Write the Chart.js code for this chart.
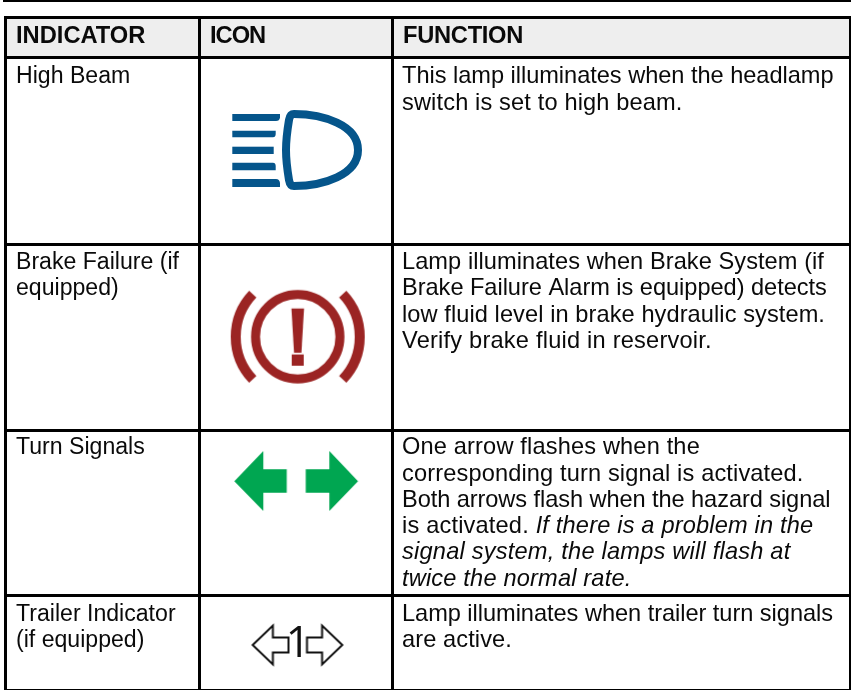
<!DOCTYPE html>
<html><head><meta charset="utf-8">
<style>html,body{margin:0;padding:0;background:#fff;overflow:hidden}canvas{display:block}</style>
<script src="https://cdn.jsdelivr.net/npm/chart.js@4"></script>
</head><body>
<canvas id="c" width="851" height="690"></canvas>
<script>
const headers = ["INDICATOR", "ICON", "FUNCTION"];
const indicators = [
  ["High Beam"],
  ["Brake Failure (if", "equipped)"],
  ["Turn Signals"],
  ["Trailer Indicator", "(if equipped)"]
];
const functions = [
  [[["This lamp illuminates when the headlamp", 0]], [["switch is set to high beam.", 0]]],
  [[["Lamp illuminates when Brake System (if", 0]], [["Brake Failure Alarm is equipped) detects", 0]],
   [["low fluid level in brake hydraulic system.", 0]], [["Verify brake fluid in reservoir.", 0]]],
  [[["One arrow flashes when the", 0]], [["corresponding turn signal is activated.", 0]],
   [["Both arrows flash when the hazard signal", 0]],
   [["is activated. ", 0], ["If there is a problem in the", 1]],
   [["signal system, the lamps will flash at", 1]], [["twice the normal rate.", 1]]],
  [[["Lamp illuminates when trailer turn signals", 0]], [["are active.", 0]]]
];
const columnEdges = [5.5, 199.5, 392.5, 850];
const rowEdges = [17.5, 57.5, 244.5, 430.5, 595.5, 690];
const iconNames = ["highBeam", "brake", "turn", "trailer"];
const iconX = [297, 297.7, 296.2, 297.5];
const iconY = [150, 336.7, 481, 645];
const iconColors = ["#05558b", "#9b2423", "#00a651", "#111111"];
/* extra line width (px) spread over the characters, to follow the source's line setting */
const headerFit = [0, -3, -2];
const functionFit = [[-1.2, 3.7], [2.3, -1.3, 3.3, 6.7], [4, 5.3, -3, 7.3, 8, 3.7], [-1.7, 1]];

function iconCanvas(w, h, draw) {
  const c = document.createElement("canvas");
  c.width = w; c.height = h;
  const g = c.getContext("2d");
  g.translate(w / 2, h / 2);
  draw(g);
  return c;
}
const iconPainters = {
  highBeam(g, col) {
    g.fillStyle = col; g.strokeStyle = col;
    g.beginPath(); g.moveTo(-64.7,-36); g.lineTo(-17,-36); g.lineTo(-17,-32.5); g.quadraticCurveTo(-17.5,-29,-21,-29); g.lineTo(-64.7,-29); g.closePath(); g.fill();
    g.beginPath(); g.moveTo(-64.7,-19.3); g.lineTo(-21.3,-19.3); g.lineTo(-21.3,-16); g.quadraticCurveTo(-21.5,-12.7,-24,-12.7); g.lineTo(-64.7,-12.7); g.closePath(); g.fill();
    g.fillRect(-64.7,-3.3,41.4,7.3);
    g.beginPath(); g.moveTo(-64.7,12.7); g.lineTo(-24,12.7); g.quadraticCurveTo(-21.5,12.7,-21.3,16); g.lineTo(-21.3,20.3); g.lineTo(-64.7,20.3); g.closePath(); g.fill();
    g.beginPath(); g.moveTo(-64.7,29); g.lineTo(-21,29); g.quadraticCurveTo(-17.5,29,-17,33); g.lineTo(-17,37); g.lineTo(-64.7,37); g.closePath(); g.fill();
    g.lineWidth = 8; g.lineJoin = "round";
    g.beginPath();
    g.moveTo(-3,-36);
    g.bezierCurveTo(26,-36, 61,-25, 61,0);
    g.bezierCurveTo(61,25, 26,36, -3,36);
    g.quadraticCurveTo(-7,36,-8,30);
    g.bezierCurveTo(-10.5,15,-11,8,-11,0);
    g.bezierCurveTo(-11,-8,-10.5,-15,-8,-30);
    g.quadraticCurveTo(-7,-36,-3,-36);
    g.closePath(); g.stroke();
  },
  brake(g, col) {
    g.fillStyle = col; g.strokeStyle = col;
    g.lineWidth = 9;
    g.beginPath(); g.arc(0,0,42.2,0,Math.PI*2); g.stroke();
    g.lineWidth = 10;
    const a = 43.5*Math.PI/180;
    g.beginPath(); g.arc(0,0,62,-a,a); g.stroke();
    g.beginPath(); g.arc(0,0,62,Math.PI-a,Math.PI+a); g.stroke();
    g.beginPath(); g.moveTo(-6.3,-28.3); g.lineTo(6.3,-28.3); g.lineTo(3.7,16); g.lineTo(-3.7,16); g.closePath(); g.fill();
    g.fillRect(-6,17.7,12,11.3);
  },
  turn(g, col) {
    g.fillStyle = col;
    g.beginPath(); g.moveTo(-61.9,0.3); g.lineTo(-32.9,-30); g.lineTo(-32.9,-11.7); g.lineTo(-9.5,-11.7); g.lineTo(-9.5,11.7); g.lineTo(-32.9,11.7); g.lineTo(-32.9,30); g.closePath(); g.fill();
    g.beginPath(); g.moveTo(61.8,0.3); g.lineTo(33.1,-30); g.lineTo(33.1,-11.7); g.lineTo(9.5,-11.7); g.lineTo(9.5,11.7); g.lineTo(33.1,11.7); g.lineTo(33.1,30); g.closePath(); g.fill();
  },
  trailer(g, col) {
    g.strokeStyle = col; g.lineWidth = 2; g.lineJoin = "miter";
    g.beginPath(); g.moveTo(-44.8,0); g.lineTo(-24.6,-19.5); g.lineTo(-24.6,-7.5); g.lineTo(-9,-7.5); g.lineTo(-9,7.5); g.lineTo(-24.6,7.5); g.lineTo(-24.6,19.5); g.closePath(); g.stroke();
    g.beginPath(); g.moveTo(44.8,0); g.lineTo(24.6,-19.5); g.lineTo(24.6,-7.5); g.lineTo(9.5,-7.5); g.lineTo(9.5,7.5); g.lineTo(24.6,7.5); g.lineTo(24.6,19.5); g.closePath(); g.stroke();
  }
};
const iconStyles = iconNames.map((n, i) => iconCanvas(150, 110, g => iconPainters[n](g, iconColors[i])));

const FONT = '"Liberation Sans", Arial, sans-serif';
const tablePlugin = {
  id: "tableText",
  beforeDraw(chart) {
    const { ctx, scales: { x, y } } = chart;
    ctx.save();
    ctx.fillStyle = "#eeeeee";
    ctx.fillRect(x.getPixelForValue(columnEdges[0]), y.getPixelForValue(rowEdges[0]),
      x.getPixelForValue(columnEdges[3]) - x.getPixelForValue(columnEdges[0]),
      y.getPixelForValue(rowEdges[1]) - y.getPixelForValue(rowEdges[0]));
    ctx.fillStyle = "#000";
    ctx.fillRect(3, 0, chart.width - 3, 2);
    ctx.restore();
  },
  afterDraw(chart) {
    const { ctx, scales: { x, y } } = chart;
    ctx.save();
    ctx.textBaseline = "alphabetic";
    ctx.textAlign = "left";
    ctx.fillStyle = "#0a0a0a";
    ctx.font = 'bold 23.7px ' + FONT;
    headers.forEach((h, i) => {
      ctx.letterSpacing = (headerFit[i] / (h.length - 1)) + "px";
      ctx.fillText(h, x.getPixelForValue(columnEdges[i]) + 10.5, y.getPixelForValue(rowEdges[0]) + 25.5);
    });
    ctx.letterSpacing = "0px";
    const LH = 26.3;
    const rowOffsets = [25.7, 24.5, 23.7, 25.5];
    indicators.forEach((lines, r) => {
      const top = y.getPixelForValue(rowEdges[r + 1]);
      ctx.font = '23.1px ' + FONT;
      lines.forEach((t, i) => ctx.fillText(t, x.getPixelForValue(columnEdges[0]) + 10.5, top + rowOffsets[r] + i * LH));
    });
    functions.forEach((lines, r) => {
      const top = y.getPixelForValue(rowEdges[r + 1]);
      lines.forEach((runs, i) => {
        let px = x.getPixelForValue(columnEdges[2]) + 9.5;
        const n = runs.reduce((s, run) => s + run[0].length, 0);
        ctx.letterSpacing = (functionFit[r][i] / (n - 1)) + "px";
        runs.forEach(([t, it]) => {
          ctx.font = (it ? 'italic ' : '') + '23.6px ' + FONT;
          ctx.fillText(t, px, top + rowOffsets[r] + i * LH);
          px += ctx.measureText(t).width;
        });
      });
    });
    ctx.letterSpacing = "0px";
    ctx.font = '500 43px "Open Sans", ' + FONT;
    ctx.textAlign = "center";
    ctx.fillStyle = "#111";
    ctx.fillText("1", x.getPixelForValue(iconX[3]) + 0.5, y.getPixelForValue(iconY[3]) + 12);
    ctx.restore();
  }
};

const gridCommon = { color: "#000", lineWidth: 3, drawTicks: false, drawOnChartArea: true };
new Chart(document.getElementById("c"), {
  type: "scatter",
  data: {
    labels: iconNames,
    datasets: [{
      label: "icons",
      data: iconX.map((v, i) => ({ x: v, y: iconY[i] })),
      pointStyle: iconStyles,
      pointRadius: 10,
      pointHoverRadius: 10
    }]
  },
  plugins: [tablePlugin],
  options: {
    responsive: false,
    animation: false,
    events: [],
    layout: { autoPadding: false, padding: { left: 4, top: 16, right: 0, bottom: 0 } },
    plugins: { legend: { display: false }, tooltip: { enabled: false } },
    scales: {
      x: {
        type: "linear", min: 4, max: 851, position: "top",
        afterBuildTicks: s => { s.ticks = columnEdges.map(v => ({ value: v })); },
        ticks: { display: false },
        border: { display: false },
        grid: gridCommon
      },
      y: {
        type: "linear", min: 16, max: 690, reverse: true,
        afterBuildTicks: s => { s.ticks = rowEdges.map(v => ({ value: v })); },
        ticks: { display: false },
        border: { display: false },
        grid: gridCommon
      }
    }
  }
});
</script>
</body></html>
